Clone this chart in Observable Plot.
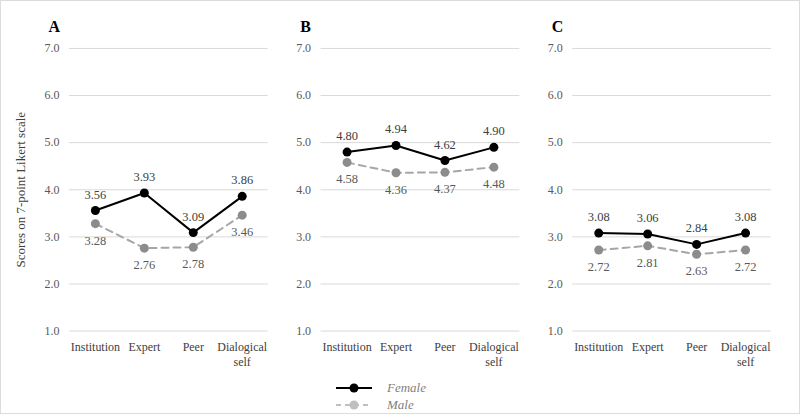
<!DOCTYPE html>
<html>
<head>
<meta charset="utf-8">
<script src="https://cdn.jsdelivr.net/npm/d3@7"></script>
<script src="https://cdn.jsdelivr.net/npm/@observablehq/plot@0.6"></script>
<style>
  html, body { margin: 0; padding: 0; background: #fff; }
  #wrap { position: relative; width: 800px; height: 414px; box-sizing: border-box; border: 1px solid #dcdcdc; overflow: hidden; font-family: "Liberation Serif", "Times New Roman", serif; }
  #chart { position: absolute; left: -1px; top: -1px; }
  .leg { position: absolute; left: 333px; display: flex; align-items: center; font-style: italic; color: #7f7f7f; font-size: 13px; }
  .leg span { margin-left: 13px; }
</style>
</head>
<body>
<div id="wrap">
  <div id="chart"></div>
  <div class="leg" style="top:379px">
    <svg width="40" height="14"><line x1="2" y1="7" x2="38" y2="7" stroke="#000" stroke-width="2"/><circle cx="20" cy="7" r="4.5" fill="#000"/></svg>
    <span>Female</span>
  </div>
  <div class="leg" style="top:396px">
    <svg width="40" height="14"><line x1="2" y1="7" x2="38" y2="7" stroke="#bfbfbf" stroke-width="2" stroke-dasharray="5,4"/><circle cx="20" cy="7" r="4.5" fill="#bfbfbf"/></svg>
    <span>Male</span>
  </div>
</div>
<script>
const panels = ["A", "B", "C"];
const categories = ["Institution", "Expert", "Peer", "Dialogical self"];
const yTicks = [1, 2, 3, 4, 5, 6, 7];
const femaleA = [3.56, 3.93, 3.09, 3.86];
const maleA   = [3.28, 2.76, 2.78, 3.46];
const femaleB = [4.80, 4.94, 4.62, 4.90];
const maleB   = [4.58, 4.36, 4.37, 4.48];
const femaleC = [3.08, 3.06, 2.84, 3.08];
const maleC   = [2.72, 2.81, 2.63, 2.72];

function rows(panel, values) {
  return values.map((v, i) => ({panel, category: categories[i], value: v}));
}
const femaleRows = [...rows("A", femaleA), ...rows("B", femaleB), ...rows("C", femaleC)];
const maleRows = [...rows("A", maleA), ...rows("B", maleB), ...rows("C", maleC)];

const chart = Plot.plot({
  width: 800,
  height: 376,
  marginTop: 48,
  marginBottom: 45,
  marginLeft: 68,
  marginRight: 27,
  style: {fontFamily: "'Liberation Serif', 'Times New Roman', serif", fontSize: "12px", background: "transparent"},
  fx: {domain: panels, padding: 0.2095, axis: null},
  x: {domain: categories, padding: 0.5},
  y: {domain: [1, 7]},
  marks: [
    Plot.gridY(yTicks, {stroke: "#d9d9d9", strokeOpacity: 1, strokeWidth: 1}),
    Plot.axisY({ticks: yTicks, tickFormat: d => d.toFixed(1), tickSize: 0, tickPadding: 10, label: null, facetAnchor: null, fill: "#595959", fontSize: 12}),
    Plot.axisX({tickSize: 0, tickPadding: 9, label: null, fill: "#404040", fontSize: 12, lineHeight: 1.25,
      tickFormat: d => d === "Dialogical self" ? "Dialogical\nself" : d}),
    Plot.line(maleRows, {fx: "panel", x: "category", y: "value", stroke: "#a6a6a6", strokeWidth: 2, strokeDasharray: "7,5"}),
    Plot.line(femaleRows, {fx: "panel", x: "category", y: "value", stroke: "#000", strokeWidth: 2}),
    Plot.dot(maleRows, {fx: "panel", x: "category", y: "value", fill: "#8c8c8c", r: 4.5}),
    Plot.dot(femaleRows, {fx: "panel", x: "category", y: "value", fill: "#000", r: 4.5}),
    Plot.text(femaleRows, {fx: "panel", x: "category", y: "value", text: d => d.value.toFixed(2), dy: -16, fill: "#404040", fontSize: 12.5}),
    Plot.text(maleRows, {fx: "panel", x: "category", y: "value", text: d => d.value.toFixed(2), dy: 17, fill: "#595959", fontSize: 12.5}),
    Plot.text(panels, {fx: d => d, text: d => d, frameAnchor: "top-left", textAnchor: "start", lineAnchor: "middle", dx: -21, dy: -22, fontWeight: "bold", fontSize: 16, fill: "#000"}),
    Plot.text(["A"], {fx: d => d, text: () => "Scores on 7-point Likert scale", frameAnchor: "left", textAnchor: "middle", rotate: -90, dx: -49, fontSize: 13, fill: "#404040"})
  ]
});
document.getElementById("chart").appendChild(chart);
</script>
</body>
</html>
